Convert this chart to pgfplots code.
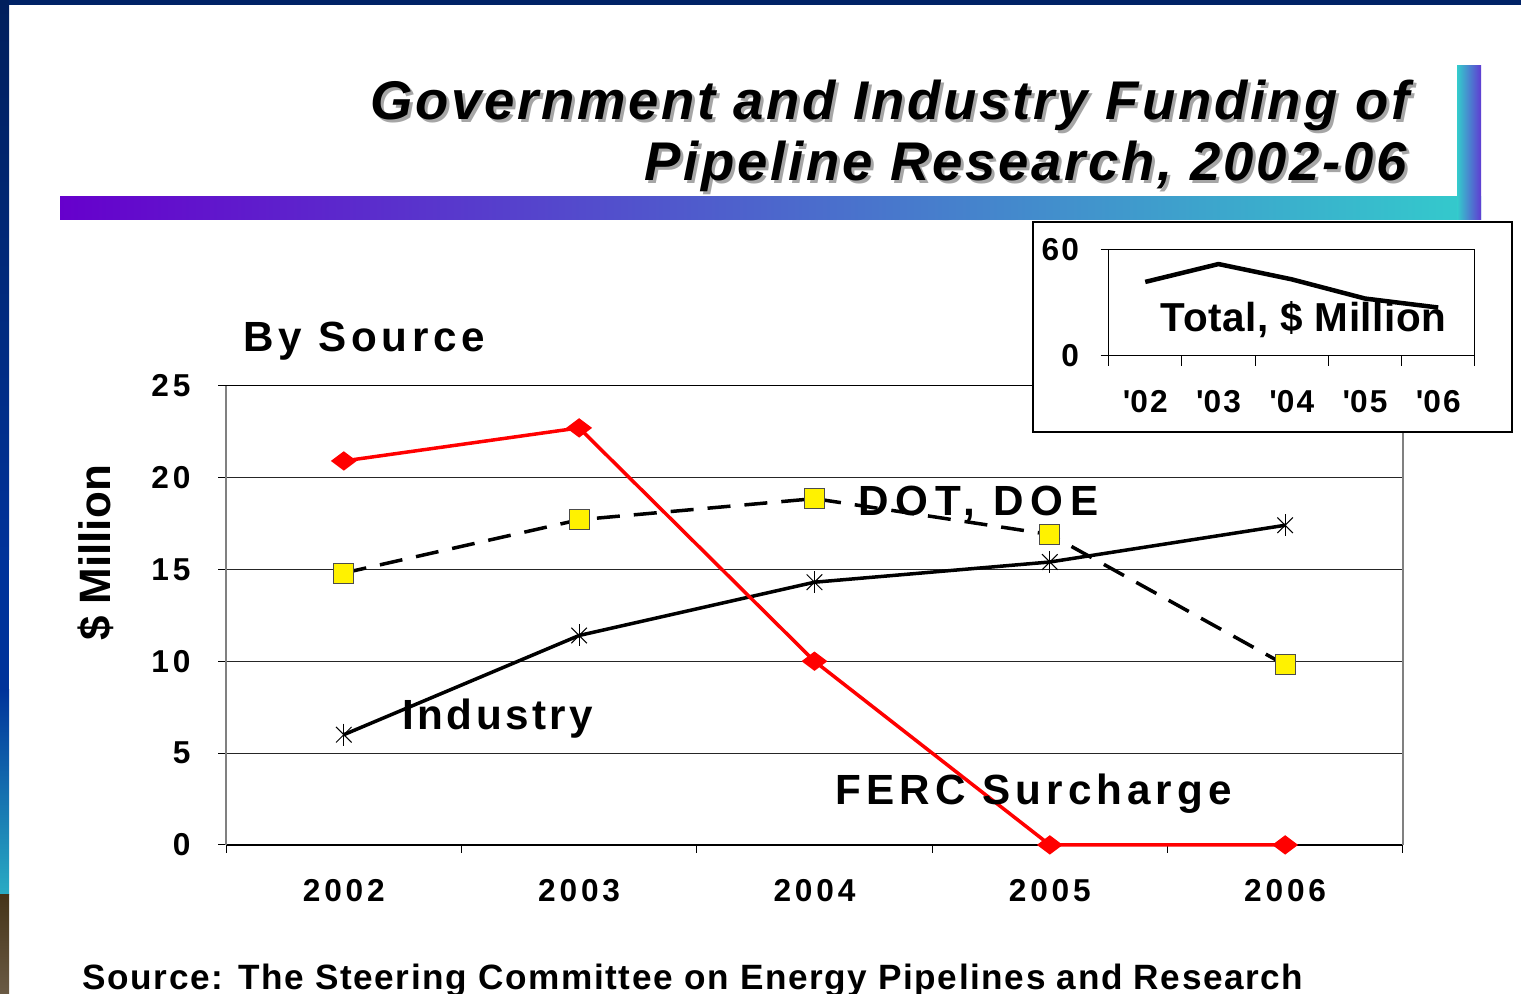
\documentclass[border=0pt]{standalone}
\usepackage{fontspec}
\setmainfont{Liberation Sans}
\usepackage{pgfplots}
\usepackage{pgfplotstable}
\pgfplotsset{compat=1.18}
\newfontfamily\titlef[LetterSpace=5]{Liberation Sans}
\newfontfamily\tickf[LetterSpace=12]{Liberation Sans}
\newfontfamily\annf[LetterSpace=11]{Liberation Sans}
\newfontfamily\dotf[LetterSpace=16]{Liberation Sans}
\newfontfamily\indf[LetterSpace=8]{Liberation Sans}
\newfontfamily\fercf[LetterSpace=12]{Liberation Sans}
\newfontfamily\srcf[LetterSpace=4.5]{Liberation Sans}
\newfontfamily\insf[LetterSpace=1.5]{Liberation Sans}
\newfontfamily\instick[LetterSpace=7]{Liberation Sans}
\definecolor{navy}{RGB}{0,34,102}
\definecolor{navyA}{RGB}{0,31,92}
\definecolor{blueB}{RGB}{0,51,154}
\definecolor{tealC}{RGB}{42,172,196}
\definecolor{brownA}{RGB}{70,52,24}
\definecolor{brownB}{RGB}{106,90,68}
\definecolor{purp}{RGB}{102,0,204}
\definecolor{cyanb}{RGB}{51,204,204}
\definecolor{vbarR}{RGB}{96,60,210}

\pgfplotstableread{
x ferc dot ind total
0 20.9 14.8 6.0 41.7
1 22.7 17.7 11.4 51.8
2 10.0 18.85 14.3 43.15
3 0 16.9 15.4 32.3
4 0 9.8 17.4 27.2
}\data

\begin{document}
\begin{tikzpicture}[x=0.01cm,y=0.01cm]
\useasboundingbox (0,0) rectangle (1521,994);
\clip (0,0) rectangle (1521,994);
\fill[white] (0,0) rectangle (1521,994);
% borders
\fill[navy] (0,989) rectangle (1521,994);
\shade[top color=navyA, bottom color=blueB] (0,434) rectangle (9,994);
\fill[blueB] (0,304) rectangle (9,434.5);
\shade[top color=blueB, bottom color=tealC] (0,99) rectangle (9,304.5);
\shade[top color=brownA, bottom color=brownB] (0,0) rectangle (9,99.5);
% title bars
\shade[left color=purp, right color=cyanb] (60,774) rectangle (1481,797);
\shade[left color=cyanb, right color=vbarR] (1457,774) rectangle (1481,928);
% title
\node[anchor=base east, inner sep=0pt, text=black!35] at (1413,871) {\titlef\bfseries\itshape\fontsize{15.5}{18}\selectfont Government and Industry Funding of};
\node[anchor=base east, inner sep=0pt] at (1410,874) {\titlef\bfseries\itshape\fontsize{15.5}{18}\selectfont Government and Industry Funding of};
\node[anchor=base east, inner sep=0pt, text=black!35] at (1411,810) {\titlef\bfseries\itshape\fontsize{15.5}{18}\selectfont Pipeline Research, 2002-06};
\node[anchor=base east, inner sep=0pt] at (1408,813) {\titlef\bfseries\itshape\fontsize{15.5}{18}\selectfont Pipeline Research, 2002-06};

% main chart
\begin{axis}[
  at={(2.26cm,1.49cm)}, anchor=south west,
  scale only axis, width=11.76cm, height=4.59cm,
  xmin=-0.5, xmax=4.5, ymin=0, ymax=25,
  xtick={0,1,2,3,4}, xticklabels={2002,2003,2004,2005,2006},
  minor xtick={-0.5,0.5,1.5,2.5,3.5,4.5},
  ytick={0,5,10,15,20,25},
  xtick pos=left, ytick pos=left,
  tick align=outside,
  major tick length=0.08cm, minor tick length=0.08cm,
  every major x tick/.append style={draw=none},
  tick style={black, line width=0.01cm},
  ymajorgrids, major grid style={black!85, line width=0.01cm},
  separate axis lines,
  x axis line style={black, line width=0.012cm},
  y axis line style={gray, line width=0.02cm},
  /pgf/number format/assume math mode=true,
  ticklabel style={font=\tickf\bfseries\fontsize{9}{10}\selectfont},
  xticklabel style={inner sep=0pt, anchor=north, yshift=-0.26cm},
  yticklabel style={inner sep=0pt, anchor=east, xshift=-0.27cm},
  clip=false,
]
\addplot[black, line width=0.035cm, mark=x, mark size=0.11cm, mark options={line width=0.01cm}] table[x=x,y=ind]{\data};
\addplot[only marks, mark=|, mark size=0.11cm, mark options={black, line width=0.01cm}] table[x=x,y=ind]{\data};
\addplot[black, line width=0.035cm, dash pattern=on 0.23cm off 0.14cm, mark=square*, mark size=0.1cm, mark options={solid, fill=yellow, draw=black!70, line width=0.01cm}] table[x=x,y=dot]{\data};
\addplot[red, line width=0.035cm, mark=diamond*, mark size=0.1cm, mark options={rotate=90, solid, fill=red}] table[x=x,y=ferc]{\data};
\end{axis}

% labels
\node[anchor=base west, inner sep=0pt] at (243,642) {\annf\bfseries\fontsize{12}{14}\selectfont By Source};
\node[anchor=base, rotate=90, inner sep=0pt] at (110,441) {\bfseries\fontsize{12.5}{14}\selectfont \$ Million};
\node[anchor=base west, inner sep=0pt] at (858,478) {\dotf\bfseries\fontsize{12}{14}\selectfont DOT, DOE};
\node[anchor=base west, inner sep=0pt] at (402,264) {\indf\bfseries\fontsize{12}{14}\selectfont Industry};
\node[anchor=base west, inner sep=0pt] at (835,189) {\fercf\bfseries\fontsize{12}{14}\selectfont FERC Surcharge};
\node[anchor=base west, inner sep=0pt] at (82,4) {\srcf\bfseries\fontsize{10}{12}\selectfont Source: The Steering Committee on Energy Pipelines and Research};

% inset
\fill[white] (1033,562) rectangle (1512,772);
\draw[black, line width=0.015cm] (1033,562) rectangle (1512,772);
\begin{axis}[
  at={(11.08cm,6.38cm)}, anchor=south west,
  scale only axis, width=3.66cm, height=1.06cm,
  xmin=-0.5, xmax=4.5, ymin=0, ymax=60,
  xtick={0,1,2,3,4},
  xticklabels={\textquotesingle02,\textquotesingle03,\textquotesingle04,\textquotesingle05,\textquotesingle06},
  minor xtick={-0.5,0.5,1.5,2.5,3.5,4.5},
  ytick={0,60},
  xtick pos=left, ytick pos=left,
  tick align=outside,
  major tick length=0.08cm, minor tick length=0.1cm,
  every major x tick/.append style={draw=none},
  tick style={black, line width=0.01cm},
  axis line style={black, line width=0.012cm},
  /pgf/number format/assume math mode=true,
  ticklabel style={font=\instick\bfseries\fontsize{9}{10}\selectfont},
  xticklabel style={inner sep=0pt, anchor=north, yshift=-0.26cm},
  yticklabel style={inner sep=0pt, anchor=east, xshift=-0.21cm},
  clip=false,
]
\addplot[black, line width=0.045cm] table[x=x,y=total]{\data};
\end{axis}
\node[anchor=base west, inner sep=0pt] at (1160,662) {\insf\bfseries\fontsize{11.5}{13}\selectfont Total, \$ Million};
\end{tikzpicture}
\end{document}
